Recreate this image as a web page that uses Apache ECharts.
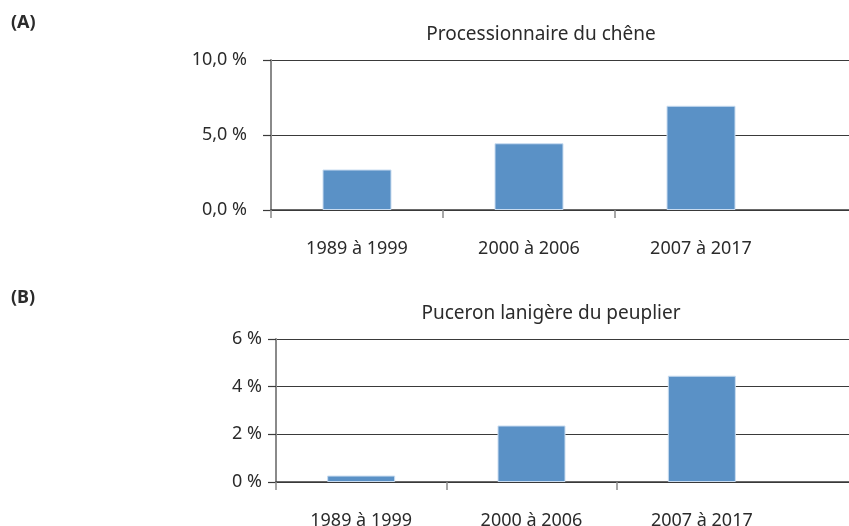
<!DOCTYPE html>
<html>
<head>
<meta charset="utf-8">
<script src="https://cdn.jsdelivr.net/npm/echarts@6/dist/echarts.min.js"></script>
<style>
  html, body { margin: 0; padding: 0; background: #fff; }
  #main { width: 849px; height: 526px; }
</style>
</head>
<body>
<div id="main"></div>
<script>
// periodes (communes aux deux graphes)
var periodes = ['1989 à 1999', '2000 à 2006', '2007 à 2017'];
// (A) processionnaire du chene, en %
var processionnaire = [2.7, 4.45, 6.95];
var ticksA = [0, 5, 10];
// (B) puceron lanigere du peuplier, en %
var puceron = [0.27, 2.37, 4.46];
var ticksB = [0, 2, 4, 6];

var W = 849;
var font = 'Noto Sans';
var txt = '#2b2b2b';
var gris = '#8a8a8a';
var fonce = '#3a3a3a';
var bleu = '#5a91c6';

function fmtA(v) { return v.toFixed(1).replace('.', ',') + ' %'; }
function fmtB(v) { return v + ' %'; }

// axe des barres (categories) + axe "decor" qui prolonge les lignes jusqu'au bord
// et porte les petits traits entre categories (pas de trait a la fin)
function xAxes(grid, left, width) {
    var band = width / periodes.length;
    var bornes = [];
    for (var i = 0; i < periodes.length; i++) bornes.push(i);
    return [{
        gridIndex: grid,
        type: 'category',
        data: periodes,
        axisLine: { show: false },
        axisTick: { show: false },
        axisLabel: { color: txt, fontFamily: font, fontSize: 18, margin: 30 }
    }, {
        gridIndex: grid + 1,
        type: 'value', min: 0, max: (W - left) / band,
        axisLine: { show: true, lineStyle: { color: fonce, width: 1.5 } },
        axisTick: { show: true, length: 8, customValues: bornes, lineStyle: { color: gris, width: 1.5 } },
        axisLabel: { show: false },
        splitLine: { show: false }
    }];
}
function yAxes(grid, ticks, fmt, margin) {
    var step = ticks[1] - ticks[0];
    var max = ticks[ticks.length - 1];
    return [{
        gridIndex: grid,
        type: 'value', min: 0, max: max, interval: step,
        axisLine: { show: true, lineStyle: { color: gris, width: 2 } },
        axisTick: { show: true, length: 8, lineStyle: { color: fonce, width: 1.2 } },
        axisLabel: { color: txt, fontFamily: font, fontSize: 18, margin: margin, formatter: fmt },
        splitLine: { show: false }
    }, {
        gridIndex: grid + 1,
        type: 'value', min: 0, max: max, interval: step,
        axisLine: { show: false },
        axisTick: { show: false },
        axisLabel: { show: false },
        splitLine: { show: true, lineStyle: { color: fonce, width: 1.2 } }
    }];
}

var option = {
    animation: false,
    backgroundColor: '#fff',
    title: [
        { text: '(A)', left: 6, top: 9, textStyle: { fontFamily: font, fontSize: 18, fontWeight: 'bold', color: txt } },
        { text: 'Processionnaire du chêne', left: 536, top: 20, textAlign: 'center',
          textStyle: { fontFamily: font, fontSize: 19, fontWeight: 'normal', color: txt } },
        { text: '(B)', left: 6, top: 284, textStyle: { fontFamily: font, fontSize: 18, fontWeight: 'bold', color: txt } },
        { text: 'Puceron lanigère du peuplier', left: 546, top: 299, textAlign: 'center',
          textStyle: { fontFamily: font, fontSize: 19, fontWeight: 'normal', color: txt } }
    ],
    grid: [
        { left: 271, top: 60, width: 516, height: 150, outerBoundsMode: 'none' },
        { left: 271, top: 60, right: 0, height: 150, outerBoundsMode: 'none' },
        { left: 276, top: 339, width: 511, height: 143, outerBoundsMode: 'none' },
        { left: 276, top: 339, right: 0, height: 143, outerBoundsMode: 'none' }
    ],
    xAxis: xAxes(0, 271, 516).concat(xAxes(2, 276, 511)),
    yAxis: yAxes(0, ticksA, fmtA, 24).concat(yAxes(2, ticksB, fmtB, 14)),
    series: [{
        type: 'bar',
        xAxisIndex: 0, yAxisIndex: 0,
        data: processionnaire,
        barWidth: 69,
        z: 5,
        itemStyle: { color: bleu, borderColor: '#c9dcf0', borderWidth: 1 }
    }, {
        type: 'bar',
        xAxisIndex: 2, yAxisIndex: 2,
        data: puceron,
        barWidth: 68,
        z: 5,
        itemStyle: { color: bleu, borderColor: '#c9dcf0', borderWidth: 1 }
    }]
};

var myChart = echarts.init(document.getElementById('main'), null, { renderer: 'canvas' });
myChart.setOption(option);
</script>
</body>
</html>
